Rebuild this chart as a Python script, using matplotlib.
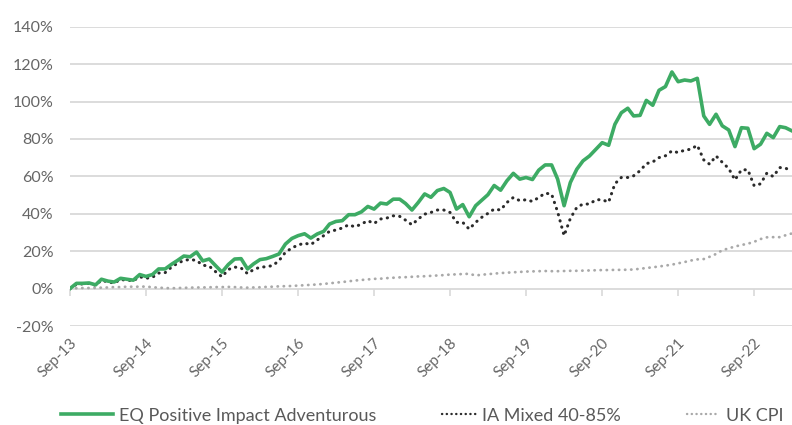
import matplotlib
matplotlib.use("Agg")
import matplotlib.pyplot as plt
from matplotlib.lines import Line2D
from matplotlib.legend_handler import HandlerLine2D
import pandas as pd

dates = pd.date_range("2013-09-30", "2023-03-31", freq="ME")

eq_positive = [
    0, 2.8, 2.8, 3, 2, 5, 4, 3.5, 5.5, 5, 4.5, 7.5, 6.5, 7.5, 10.5, 10.5, 13, 15, 17.4, 17,
    19.5, 14.8, 15.8, 12.2, 8.8, 12.9, 15.8, 16, 10.5, 13.2, 15.5, 16, 17.2, 18.5, 23.8, 26.8,
    28.3, 29.3, 27, 29.2, 30.6, 34.5, 35.9, 36.3, 39.5, 39.5, 41, 43.9, 42.5, 45.7, 45.2, 47.8,
    47.8, 45.5, 42, 46, 50.6, 48.8, 52.4, 53.5, 51.4, 42.5, 44.9, 38.4, 44.3, 47.1, 50.2, 55.1,
    52.6, 57.6, 61.6, 58.5, 59.4, 58.3, 63.3, 66.1, 66.1, 58.5, 44.3, 56.7, 63.8, 68.3, 70.9,
    74.5, 78, 76.6, 87.8, 94, 96.4, 92.3, 92.6, 100.6, 98, 106, 108, 115.8, 110.6, 111.5, 111,
    112.4, 92.3, 87.8, 93.2, 87, 84.8, 75.9, 86, 85.7, 74.8, 77.2, 83, 80.7, 86.6, 86, 84.3,
]

ia_mixed = [
    0, 2.3, 2.5, 2.8, 1.8, 4.5, 3.5, 3, 4.8, 4.5, 4.2, 6.3, 5.5, 6, 8.3, 8.5, 11.5, 13.5, 15,
    15.6, 15, 12.5, 12, 9, 6.3, 10.2, 11.5, 11, 8, 10.2, 11.4, 11.7, 12.3, 14.9, 19.4, 21.7,
    23.3, 24.3, 23.5, 26, 28.3, 30.6, 31.3, 32.4, 34.1, 33, 34.5, 36.3, 34.8, 37.2, 37.7, 38.9,
    38.6, 36.6, 34.1, 37.2, 39.8, 40.7, 42, 42, 40.7, 35.4, 35.4, 31.8, 35.4, 38, 40.2, 42.5,
    42, 46, 48.7, 47, 47.5, 46.6, 48.7, 51, 50.5, 41, 28.3, 37.5, 43.4, 45.2, 45.2, 47.5, 47.5,
    46.2, 56, 59.4, 59.4, 60.3, 63, 66.8, 67.7, 70, 71, 73.6, 72.7, 74, 74.5, 76.6, 68.8, 66.5,
    70.9, 67.5, 64.2, 58.1, 63.5, 63.5, 55, 56, 61.7, 59.9, 64.7, 64.4, 62.6,
]

uk_cpi = [
    0, 0.2, 0.3, 0.3, 0.4, 0.5, 0.6, 0.8, 0.8, 1.0, 1.0, 1.0, 1.1, 0.7, 0.5, 0.3, 0.2, 0.3,
    0.4, 0.5, 0.6, 0.6, 0.7, 0.8, 0.8, 0.9, 0.8, 0.6, 0.5, 0.6, 0.7, 0.9, 1.0, 1.2, 1.3, 1.4,
    1.6, 1.8, 2.0, 2.2, 2.5, 2.8, 3.2, 3.5, 3.9, 4.3, 4.6, 4.9, 5.2, 5.3, 5.6, 5.8, 6.0, 6.1,
    6.3, 6.5, 6.6, 6.8, 7.0, 7.2, 7.5, 7.6, 7.8, 7.9, 7.0, 7.4, 7.7, 8.0, 8.3, 8.5, 8.7, 8.9,
    9.1, 9.2, 9.3, 9.4, 9.3, 9.3, 9.4, 9.5, 9.5, 9.6, 9.7, 9.8, 9.9, 9.9, 10.0, 10.0, 10.1,
    10.2, 10.6, 11.0, 11.4, 11.8, 12.3, 12.8, 13.5, 14.2, 15.0, 15.6, 15.8, 17.0, 18.5, 20.5,
    21.5, 22.5, 23.3, 24.0, 25.0, 26.5, 27.4, 27.5, 27.5, 28.5, 29.5,
]

series_names = ["EQ Positive Impact Adventurous", "IA Mixed 40-85%", "UK CPI"]
y_ticks = [-20, 0, 20, 40, 60, 80, 100, 120, 140]

plt.rcParams["font.family"] = ["Lato", "DejaVu Sans"]

fig = plt.figure(figsize=(7.92, 4.25), dpi=100)
ax = fig.add_axes([70 / 792, 1 - 326 / 425, 1 - 70 / 792, (326 - 26.7) / 425])

green = "#3dab64"
dark = "#2b2b2b"
grey = "#a9a9a9"

ax.plot(dates, uk_cpi, color=grey, lw=2.0, linestyle=(0, (0.1, 2.1)),
        dash_capstyle="round", zorder=2)
ax.plot(dates, ia_mixed, color=dark, lw=2.2, linestyle=(0, (0.1, 2.0)),
        dash_capstyle="round", zorder=3)
ax.plot(dates, eq_positive, color=green, lw=2.6, zorder=4, solid_joinstyle="round")

ax.set_ylim(-20, 140)
ax.set_xlim(dates[0], dates[-1])
ax.set_yticks(y_ticks)
ax.set_yticklabels([f"{v}%" for v in y_ticks])
ax.grid(axis="y", color="#d9d9d9", lw=1.3)
ax.set_axisbelow(True)
for s in ax.spines.values():
    s.set_visible(False)

ax.tick_params(axis="y", length=0, pad=12, labelsize=11.5, labelcolor="#666666")

sep_ticks = [d for d in dates if d.month == 9]
ax.set_xticks(sep_ticks)
ax.set_xticklabels([d.strftime("%b-%y") for d in sep_ticks])
ax.tick_params(axis="x", length=0, pad=7, labelsize=11, labelcolor="#666666")
for lab in ax.get_xticklabels():
    lab.set_rotation(45)
    lab.set_ha("right")
    lab.set_va("top")
    lab.set_rotation_mode("anchor")

sec = ax.secondary_xaxis(20 / 160)
sec.set_xticks(sep_ticks)
sec.set_xticklabels([])
sec.tick_params(axis="x", direction="out", length=5, color="#d9d9d9", width=1.2)
sec.spines["bottom"].set_visible(False)


class ShortHandler(HandlerLine2D):
    def __init__(self, frac=1.0, **kw):
        super().__init__(**kw)
        self.frac = frac

    def create_artists(self, legend, orig_handle, xdescent, ydescent, width, height,
                       fontsize, trans):
        w2 = width * self.frac
        return super().create_artists(legend, orig_handle, xdescent - (width - w2),
                                      ydescent, w2, height, fontsize, trans)


h1 = Line2D([], [], color=green, lw=2.6)
h2 = Line2D([], [], color=dark, lw=1.7, linestyle=(0, (0.1, 1.9)), dash_capstyle="round")
h3 = Line2D([], [], color=grey, lw=1.7, linestyle=(0, (0.1, 1.9)), dash_capstyle="round")

fig.legend(handles=[h1, h2, h3], labels=series_names, loc="center",
           bbox_to_anchor=(0.533, 0.022), ncol=3, frameon=False, fontsize=13,
           handlelength=2.9, columnspacing=2.6, handletextpad=0.33,
           labelcolor="#595959",
           handler_map={h2: ShortHandler(0.64), h3: ShortHandler(0.62)})

fig.savefig("out.png", dpi=100)
